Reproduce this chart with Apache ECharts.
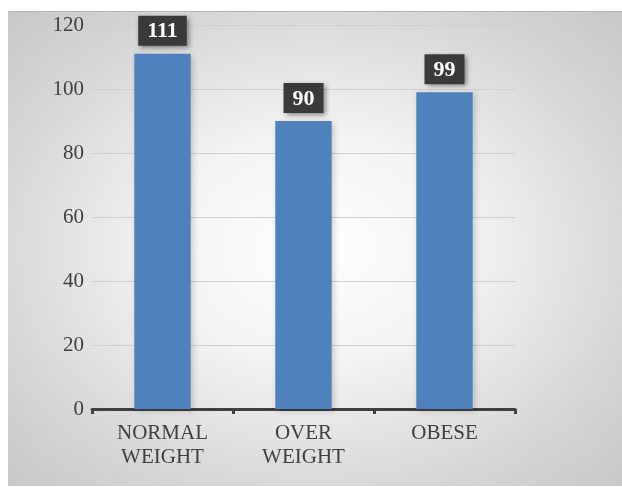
<!DOCTYPE html>
<html>
<head>
<meta charset="utf-8">
<script src="https://cdn.jsdelivr.net/npm/echarts@6/dist/echarts.min.js"></script>
<style>
  html, body { margin: 0; padding: 0; background: #fff; }
  #main {
    position: absolute; left: 8px; top: 11px; width: 614px; height: 474px;
    border-top: 1px solid #b4b4b4;
    background: radial-gradient(ellipse at 50% 50%, #ffffff 0%, #f3f3f3 35%, #d6d6d6 75%, #c8c8c8 100%);
  }
</style>
</head>
<body>
<div id="main"></div>
<script>
// 数据
const categories = ['NORMAL\nWEIGHT', 'OVER\nWEIGHT', 'OBESE'];
const values = [111, 90, 99];
const yTicks = { min: 0, max: 120, interval: 20 };

const serif = '"Times New Roman", "Liberation Serif", serif';
const myChart = echarts.init(document.getElementById('main'));
myChart.setOption({
    animation: false,
    grid: { left: 84, right: 107, top: 13, bottom: 77 },
    xAxis: {
        type: 'category',
        data: categories,
        axisLine: { lineStyle: { color: '#404040', width: 3 } },
        axisTick: { show: true, length: 5, lineStyle: { color: '#404040', width: 3 } },
        axisLabel: {
            color: '#404040', fontFamily: serif, fontSize: 21,
            lineHeight: 24, margin: 12
        }
    },
    yAxis: {
        type: 'value',
        min: yTicks.min, max: yTicks.max, interval: yTicks.interval,
        axisLine: { show: false },
        axisTick: { show: false },
        axisLabel: { color: '#404040', fontFamily: serif, fontSize: 21, margin: 8 },
        splitLine: { lineStyle: { color: '#d0d0d0', width: 1 } }
    },
    series: [{
        type: 'bar',
        data: values,
        barWidth: '40%',
        itemStyle: {
            color: '#4f81bd',
            shadowColor: 'rgba(0,0,0,0.18)', shadowBlur: 6, shadowOffsetX: 2, shadowOffsetY: 2
        },
        label: {
            show: true, position: 'top', distance: 8,
            color: '#fff', fontFamily: serif, fontWeight: 'bold', fontSize: 22,
            backgroundColor: '#3a3a3a', padding: [5, 9, 3, 9],
            shadowColor: 'rgba(0,0,0,0.45)', shadowBlur: 5, shadowOffsetX: 2, shadowOffsetY: 2
        }
    }]
});
</script>
</body>
</html>
